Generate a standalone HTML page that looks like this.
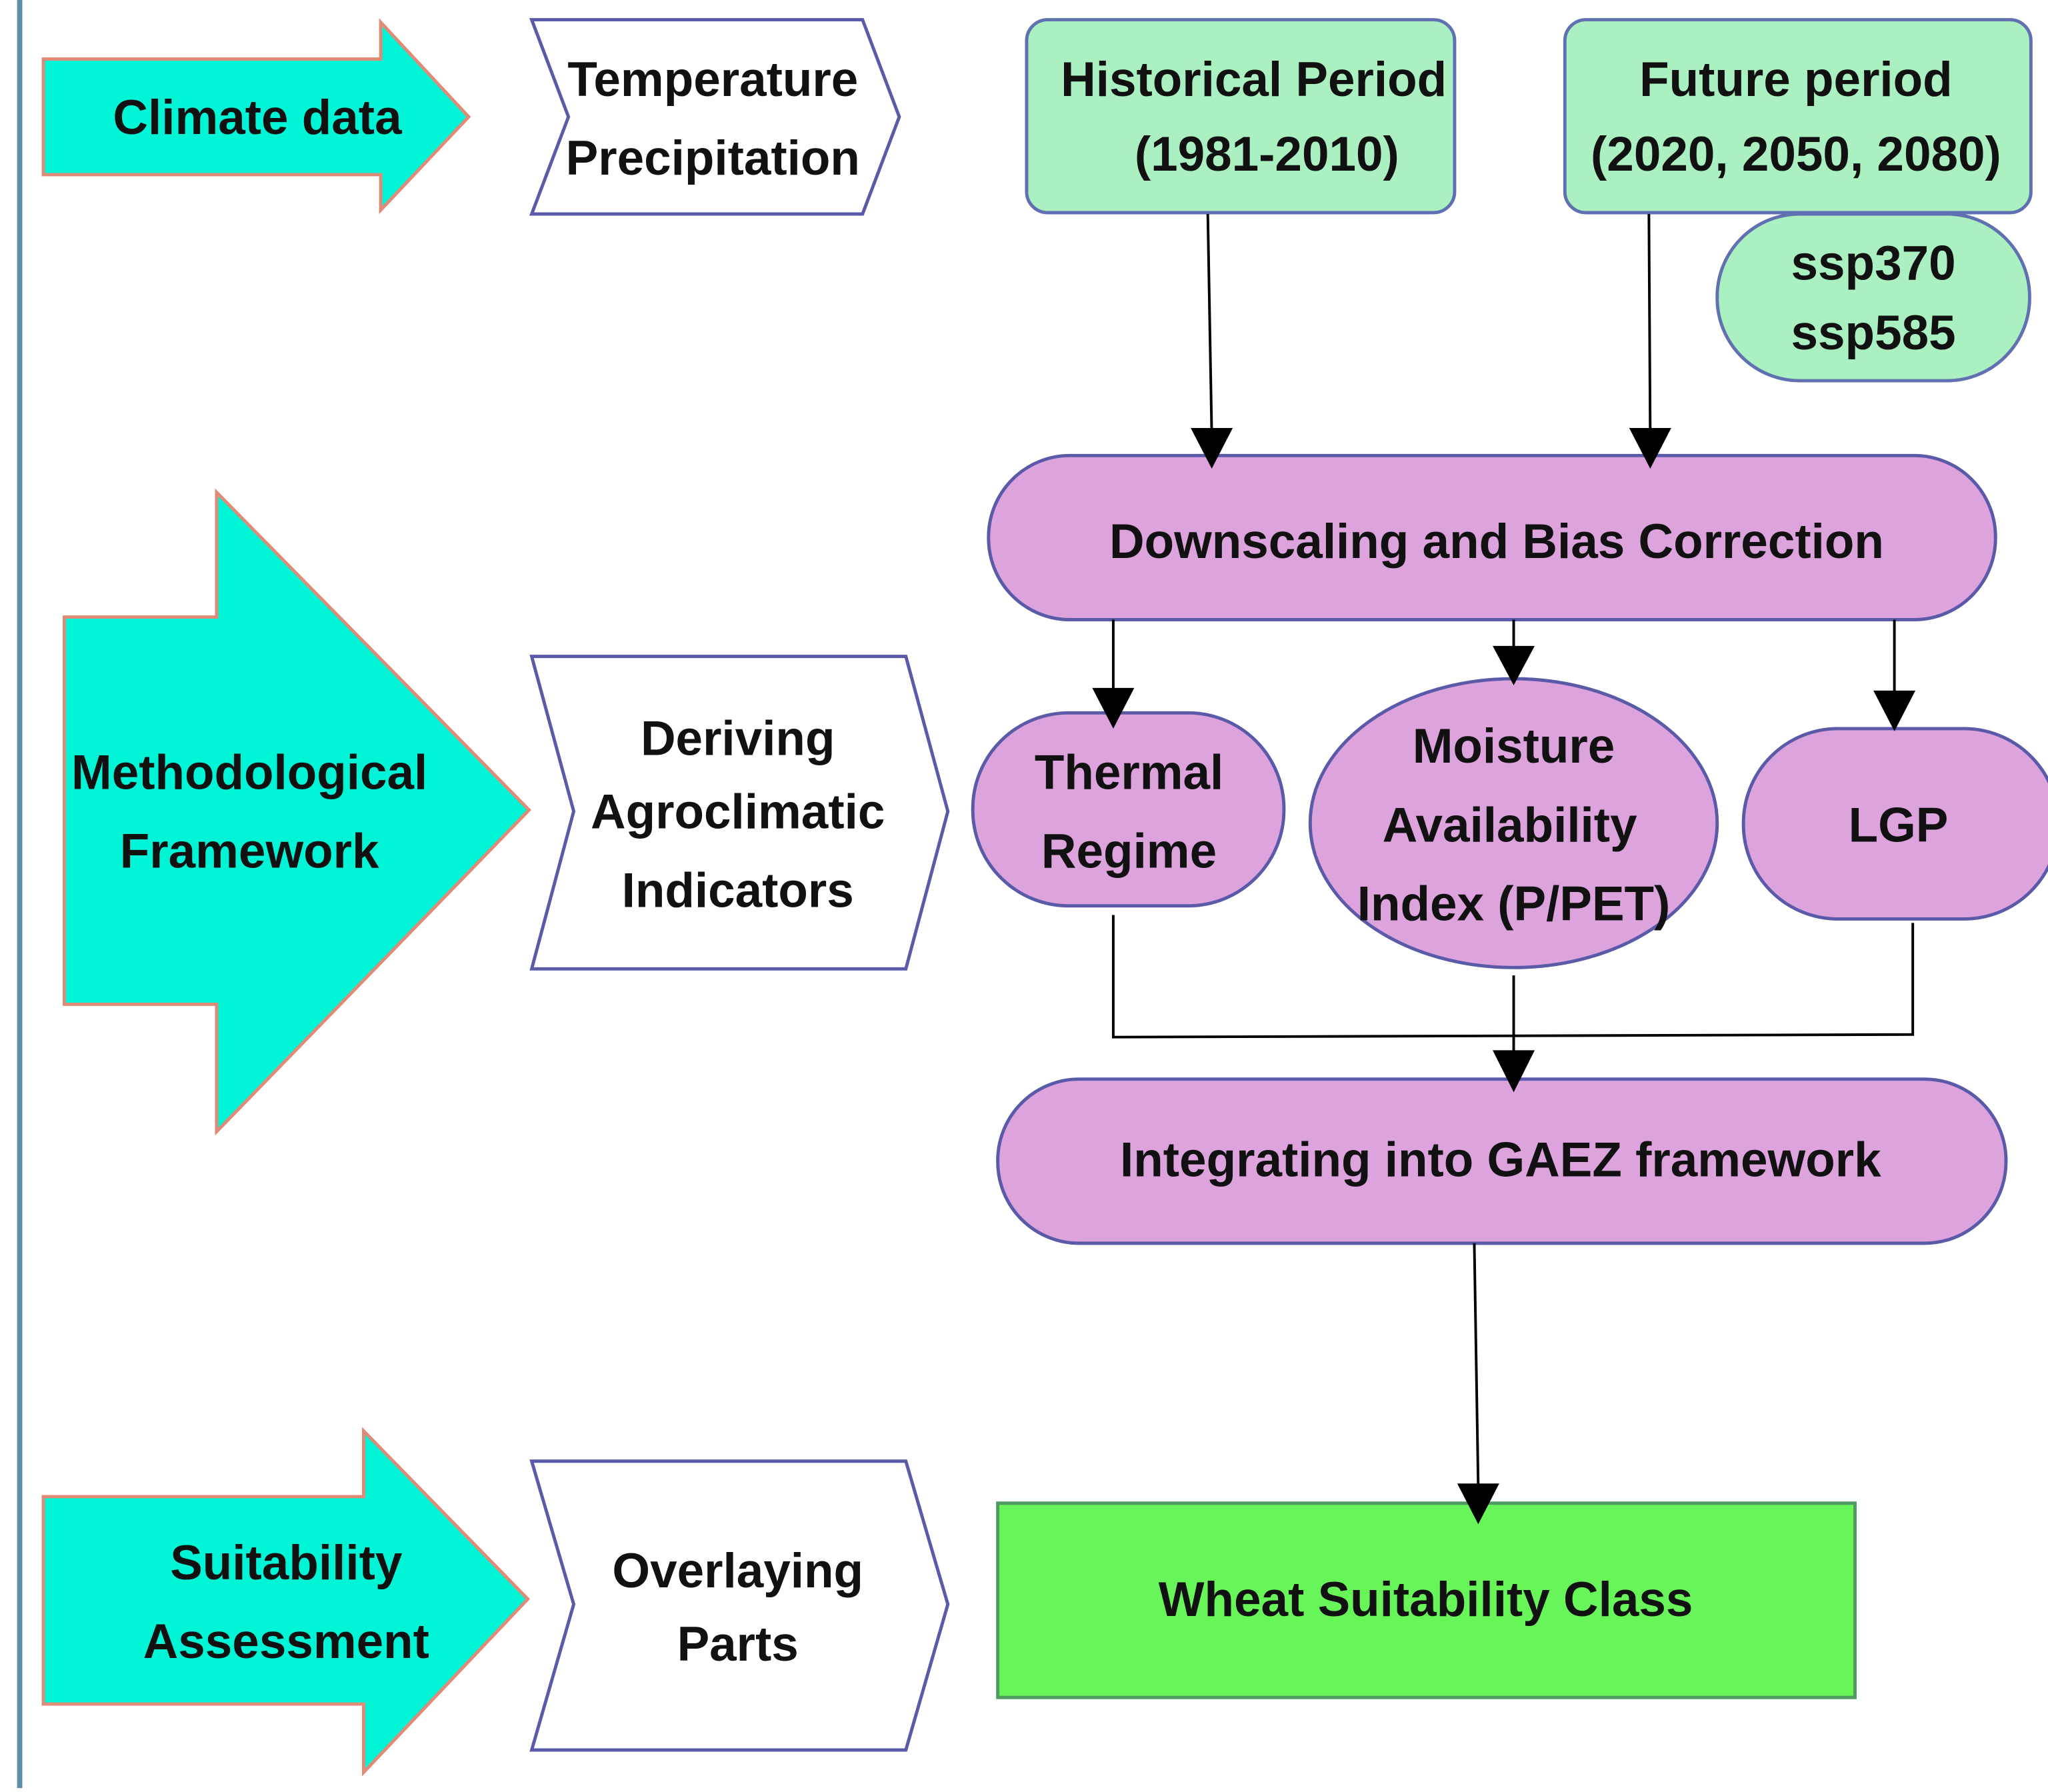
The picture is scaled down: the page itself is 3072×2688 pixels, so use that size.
<!DOCTYPE html>
<html><head><meta charset="utf-8"><style>html,body{margin:0;padding:0;background:#fff}svg{display:block}</style></head>
<body>
<svg xmlns="http://www.w3.org/2000/svg" width="3072" height="2688" viewBox="0 0 1560 1365">
<rect width="1560" height="1365" fill="#fff"/>
<line x1="15" y1="0" x2="15" y2="1362" stroke="#5f8fa8" stroke-width="4"/>
<g font-family="Liberation Sans, sans-serif" font-weight="bold" font-size="37" fill="#111" text-anchor="middle">
<polygon points="33,45 290,45 290,17 357,89 290,160 290,133 33,133" fill="#00f5d6" stroke="#e08a78" stroke-width="2.5"/>
<text x="196" y="102">Climate data</text>
<polygon points="49,470 165,470 165,375 403,617 165,862 165,765 49,765" fill="#00f5d6" stroke="#e08a78" stroke-width="2.5"/>
<text x="190" y="601">Methodological</text>
<text x="190" y="661">Framework</text>
<polygon points="33,1140 277,1140 277,1090 402,1218 277,1350 277,1298 33,1298" fill="#00f5d6" stroke="#e08a78" stroke-width="2.5"/>
<text x="218" y="1203">Suitability</text>
<text x="218" y="1263">Assessment</text>
<polygon points="405,15 657,15 685,89 657,163 405,163 433,89" fill="#fff" stroke="#5a5aa8" stroke-width="2.5"/>
<text x="543" y="73">Temperature</text>
<text x="543" y="133">Precipitation</text>
<polygon points="405,500 690,500 722,618 690,738 405,738 437,618" fill="#fff" stroke="#5a5aa8" stroke-width="2.5"/>
<text x="562" y="575">Deriving</text>
<text x="562" y="631">Agroclimatic</text>
<text x="562" y="691">Indicators</text>
<polygon points="405,1113 690,1113 722,1222 690,1333 405,1333 437,1222" fill="#fff" stroke="#5a5aa8" stroke-width="2.5"/>
<text x="562" y="1209">Overlaying</text>
<text x="562" y="1265">Parts</text>
<rect x="782" y="15" width="326" height="147" rx="16" fill="#aaf0c0" stroke="#6070b0" stroke-width="2.5"/>
<text x="955" y="73">Historical Period</text>
<text x="965" y="130">(1981-2010)</text>
<rect x="1192" y="15" width="355" height="147" rx="16" fill="#aaf0c0" stroke="#6070b0" stroke-width="2.5"/>
<text x="1368" y="73">Future period</text>
<text x="1368" y="130">(2020, 2050, 2080)</text>
<rect x="1308" y="163" width="238" height="127" rx="63" fill="#aaf0c0" stroke="#6070b0" stroke-width="2.5"/>
<text x="1427" y="213">ssp370</text>
<text x="1427" y="266">ssp585</text>
<rect x="753" y="347" width="767" height="125" rx="62" fill="#dda3dd" stroke="#5a5aa8" stroke-width="2.5"/>
<text x="1140" y="425">Downscaling and Bias Correction</text>
<rect x="741" y="543" width="237" height="147" rx="73" fill="#dda3dd" stroke="#5a5aa8" stroke-width="2.5"/>
<text x="860" y="601">Thermal</text>
<text x="860" y="661">Regime</text>
<ellipse cx="1153" cy="627" rx="155" ry="110" fill="#dda3dd" stroke="#5a5aa8" stroke-width="2.5"/>
<text x="1153" y="581">Moisture</text>
<text x="1150" y="641">Availability</text>
<text x="1153" y="701">Index (P/PET)</text>
<rect x="1328" y="555" width="240" height="145" rx="72" fill="#dda3dd" stroke="#5a5aa8" stroke-width="2.5"/>
<text x="1446" y="641">LGP</text>
<rect x="760" y="822" width="768" height="125" rx="62" fill="#dda3dd" stroke="#5a5aa8" stroke-width="2.5"/>
<text x="1143" y="896">Integrating into GAEZ framework</text>
<rect x="760" y="1145" width="653" height="148" fill="#68f55a" stroke="#4f9a60" stroke-width="2.5"/>
<text x="1086" y="1231">Wheat Suitability Class</text>
</g>
<g stroke="#000" stroke-width="2" fill="none">
<line x1="920" y1="163" x2="923" y2="330"/>
<line x1="1256" y1="163" x2="1257" y2="330"/>
<line x1="848" y1="472" x2="848" y2="528"/>
<line x1="1153" y1="472" x2="1153" y2="496"/>
<line x1="1443" y1="472" x2="1443" y2="530"/>
<polyline points="848,697 848,790 1457,788 1457,703"/>
<line x1="1153" y1="743" x2="1153" y2="805"/>
<line x1="1123" y1="947" x2="1126" y2="1133"/>
</g>
<g fill="#000">
<polygon points="907,326 939,326 923,357"/>
<polygon points="1241,326 1273,326 1257,357"/>
<polygon points="832,524 864,524 848,555"/>
<polygon points="1137,492 1169,492 1153,522"/>
<polygon points="1427,526 1459,526 1443,557"/>
<polygon points="1137,800 1169,800 1153,832"/>
<polygon points="1110,1130 1142,1130 1126,1161"/>
</g>
</svg>
</body></html>
